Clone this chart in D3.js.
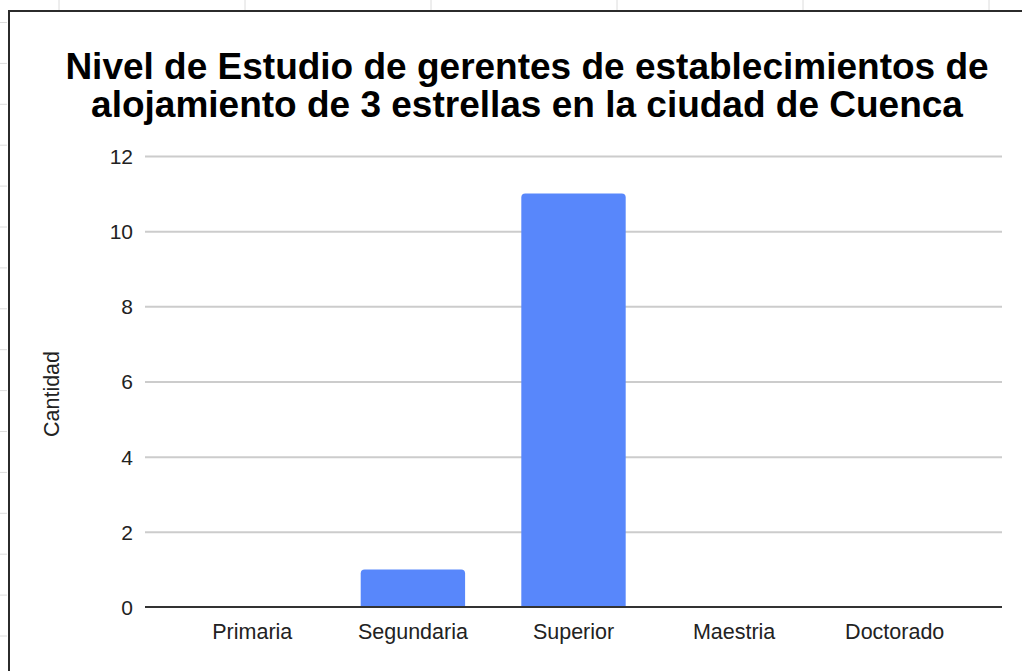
<!DOCTYPE html>
<html>
<head>
<meta charset="utf-8">
<script src="https://cdn.jsdelivr.net/npm/d3@7"></script>
<style>
html,body{margin:0;padding:0;background:#fff;}
svg{display:block;}
text{font-family:"Liberation Sans",Arial,sans-serif;}
</style>
</head>
<body>
<svg id="chart" width="1022" height="671"></svg>
<script>
const categories = ["Primaria", "Segundaria", "Superior", "Maestria", "Doctorado"];
const values = [0, 1, 11, 0, 0];
const yTicks = [0, 2, 4, 6, 8, 10, 12];
const titleLines = ["Nivel de Estudio de gerentes de establecimientos de", "alojamiento de 3 estrellas en la ciudad de Cuenca"];
const yAxisTitle = "Cantidad";

const svg = d3.select("#chart");

// spreadsheet background marks
const sheetCols = [59, 245, 431, 617, 803, 989];
svg.selectAll("line.sc").data(sheetCols).enter().append("line")
  .attr("x1", d => d).attr("x2", d => d).attr("y1", 0).attr("y2", 10)
  .attr("stroke", "#dcdcdc").attr("stroke-width", 1);
const sheetRows = d3.range(16).map(i => 22.5 + i * 40.9);
svg.selectAll("line.sr").data(sheetRows).enter().append("line")
  .attr("x1", 0).attr("x2", 7).attr("y1", d => d).attr("y2", d => d)
  .attr("stroke", "#dcdcdc").attr("stroke-width", 1);

// chart border
svg.append("rect").attr("x", 9).attr("y", 11).attr("width", 1030).attr("height", 680)
  .attr("fill", "#fff").attr("stroke", "#2b2b2b").attr("stroke-width", 2);

// title
svg.append("text").attr("x", 527).attr("text-anchor", "middle")
  .attr("font-weight", "bold").attr("font-size", 37).attr("fill", "#000")
  .selectAll("tspan").data(titleLines).enter().append("tspan")
  .attr("x", 527).attr("y", (d, i) => 79 + i * 38).text(d => d);

const plotLeft = 145, plotRight = 1002;
const y = d3.scaleLinear().domain([0, 12]).range([607, 156]);
const x = d3.scaleBand().domain(categories).range([172, 975]).paddingInner(0.35).paddingOuter(0.175);

// gridlines
const grid = d3.axisLeft(y).tickValues(yTicks).tickSize(-(plotRight - plotLeft)).tickFormat("");
const gg = svg.append("g").attr("transform", `translate(${plotLeft},0)`).call(grid);
gg.select(".domain").remove();
gg.selectAll(".tick line").attr("stroke", "#cccccc").attr("stroke-width", 2)
  .filter(d => d === 0).remove();

// y tick labels
const ya = d3.axisLeft(y).tickValues(yTicks).tickSize(0).tickPadding(0).tickFormat(d3.format("d"));
const yg = svg.append("g").attr("transform", `translate(133,0)`).call(ya);
yg.select(".domain").remove();
yg.selectAll("text").attr("font-size", 21).attr("fill", "#222")
  .attr("font-family", "'Liberation Sans', Arial, sans-serif").attr("dy", "0.35em");

// bars
const r = 4;
svg.selectAll("path.bar").data(categories.map((c, i) => ({c, v: values[i]})).filter(d => d.v > 0))
  .enter().append("path").attr("fill", "#5887fb")
  .attr("d", d => {
    const x0 = x(d.c), w = x.bandwidth(), y0 = y(d.v), y1 = y(0);
    return `M${x0},${y1}V${y0 + r}Q${x0},${y0} ${x0 + r},${y0}H${x0 + w - r}Q${x0 + w},${y0} ${x0 + w},${y0 + r}V${y1}Z`;
  });

// baseline
svg.append("line").attr("x1", plotLeft).attr("x2", plotRight).attr("y1", y(0)).attr("y2", y(0))
  .attr("stroke", "#333").attr("stroke-width", 2);

// x labels
const xa = d3.axisBottom(x).tickSize(0).tickPadding(0);
const xg = svg.append("g").attr("transform", `translate(0,${y(0)})`).call(xa);
xg.select(".domain").remove();
xg.selectAll("text").attr("font-size", 21.5).attr("fill", "#222")
  .attr("font-family", "'Liberation Sans', Arial, sans-serif").attr("dy", null).attr("y", 32);

// y axis title
svg.append("text").attr("transform", "translate(59,394) rotate(-90)")
  .attr("text-anchor", "middle").attr("font-size", 21.5).attr("fill", "#222")
  .attr("font-family", "'Liberation Sans', Arial, sans-serif").text(yAxisTitle);
</script>
</body>
</html>
